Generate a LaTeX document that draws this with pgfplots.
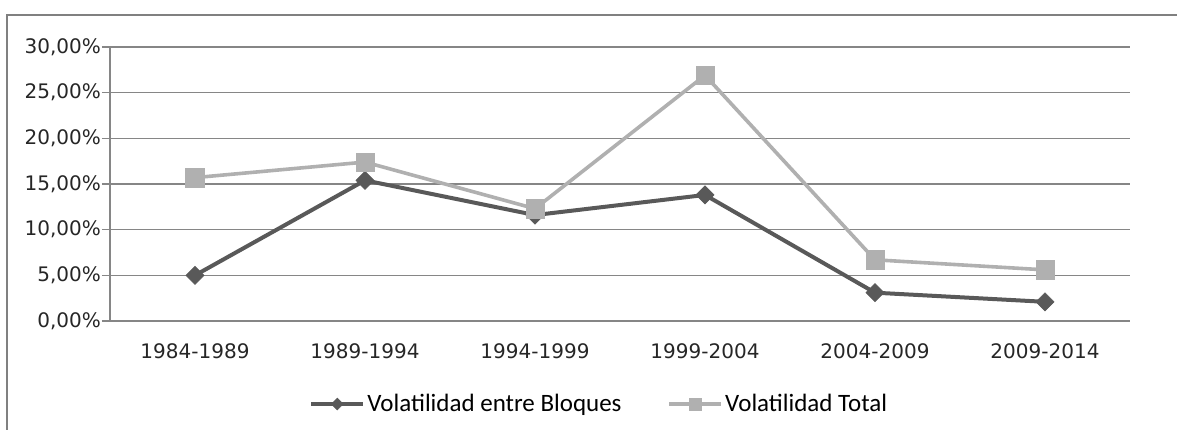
\documentclass[border=0pt]{standalone}
\usepackage{pgfplots}
\pgfplotsset{compat=1.18}
\usepackage{fontspec}
\setmainfont{DejaVu Sans}
\newfontfamily\legfont{Carlito}

\definecolor{gridc}{RGB}{134,134,134}
\definecolor{darkser}{RGB}{89,89,89}
\definecolor{lightser}{RGB}{176,176,176}
\definecolor{framec}{RGB}{128,128,128}

\begin{document}
\begin{tikzpicture}
\begin{axis}[
    at={(0,0)}, anchor=south west,
    scale only axis,
    width=510pt, height=137pt,
    xmin=-0.5, xmax=5.5,
    ymin=0, ymax=30,
    axis x line*=bottom,
    axis y line*=left,
    axis line style={gridc, line width=0.6pt},
    xtick={0,...,5},
    xticklabels={1984-1989,1989-1994,1994-1999,1999-2004,2004-2009,2009-2014},
    major x tick style={draw=none},
    extra x ticks={-0.5,0.5,...,5.5},
    extra x tick labels={},
    extra x tick style={major tick length=4pt, tick align=outside,
        tick style={draw=gridc, line width=0.6pt}},
    ytick={0,5,...,30},
    yticklabels={{0,00\%},{5,00\%},{10,00\%},{15,00\%},{20,00\%},{25,00\%},{30,00\%}},
    ymajorgrids,
    major grid style={gridc, line width=0.6pt},
    y tick style={draw=gridc, line width=0.6pt},
    tick align=outside,
    major tick length=4pt,
    tick label style={font=\fontsize{10}{12}\selectfont, text=black!85},
    yticklabel style={xshift=3pt},
    xticklabel style={yshift=-4pt},
    legend columns=2,
    legend style={draw=none, fill=none, inner sep=0pt,
        at={(0.195,-0.303)}, anchor=west,
        font=\legfont\fontsize{12.5}{14}\selectfont,
        column sep=0pt,
        nodes={inner xsep=1pt},
        /tikz/every even column/.append style={column sep=22pt}},
    legend image code/.code={%
        \draw[mark repeat=2, mark phase=2, #1, every mark/.append style={scale=0.65}]
            plot coordinates {(0pt,0pt) (13pt,0pt) (26pt,0pt)};},
]
\addplot[darkser, line width=2pt, mark=square*, mark size=3.2pt,
    mark options={rotate=45, fill=darkser, draw=darkser, line width=0.3pt}]
    coordinates {(0,5.0) (1,15.4) (2,11.6) (3,13.8) (4,3.1) (5,2.1)};
\addlegendentry{Volatilidad entre Bloques}
\addplot[lightser, line width=1.8pt, mark=square*, mark size=4.6pt,
    mark options={fill=lightser, draw=lightser, line width=0.3pt}]
    coordinates {(0,15.7) (1,17.4) (2,12.3) (3,26.9) (4,6.7) (5,5.6)};
\addlegendentry{Volatilidad Total}
\end{axis}
\pgfresetboundingbox
\useasboundingbox (-55pt,-54pt) rectangle (533.5pt,160.5pt);
\draw[framec, line width=1pt] (-51.5pt,-60pt) -- (-51.5pt,153pt) -- (540pt,153pt);
\end{tikzpicture}
\end{document}
